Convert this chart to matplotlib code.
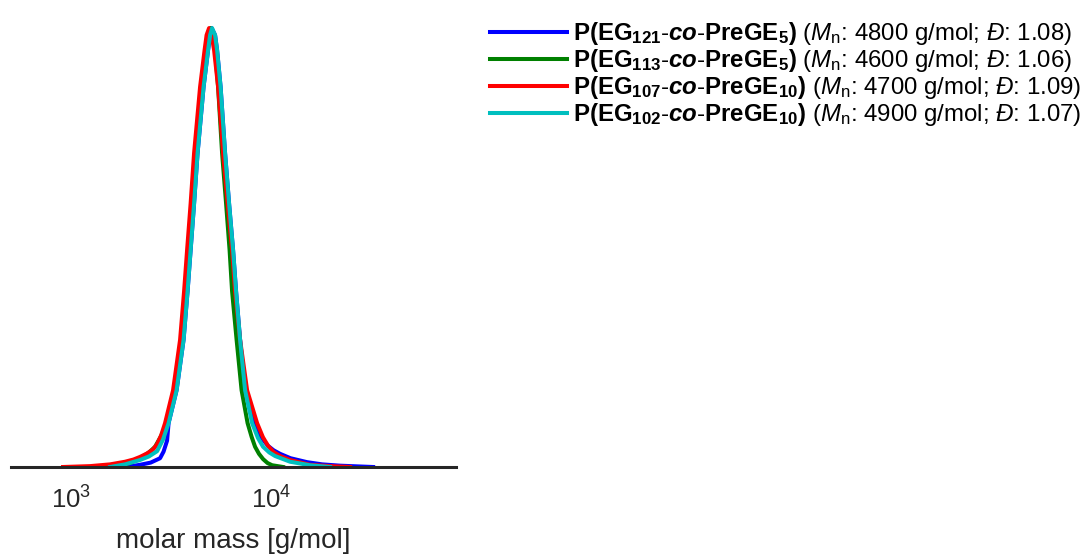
import numpy as np
import matplotlib
matplotlib.use('Agg')
import matplotlib.pyplot as plt
from matplotlib.ticker import FixedLocator, NullLocator

plt.rcParams['font.family'] = ['Liberation Sans', 'DejaVu Sans']
plt.rcParams['mathtext.fontset'] = 'custom'
plt.rcParams['mathtext.rm'] = 'Liberation Sans'
plt.rcParams['mathtext.it'] = 'Liberation Sans:italic'
plt.rcParams['mathtext.bf'] = 'Liberation Sans:bold'
plt.rcParams['mathtext.bfit'] = 'Liberation Sans:bold:italic'

# SEC traces: molar mass [g/mol] vs normalised signal
m_blue = [1758, 2000, 2213, 2500, 2786, 2900, 3020, 3073, 3370, 3652, 3823, 3960, 4121, 4290,
          4597, 4842, 4955, 5040, 5248, 5370, 5592, 5888, 6166, 6457, 6683, 6998, 7413, 8222,
          8900, 9661, 10300, 11092, 12500, 15136, 18000, 22131, 32359]
i_blue = [0.0, 0.002, 0.005, 0.010, 0.020, 0.035, 0.06, 0.10, 0.175, 0.29, 0.40, 0.494, 0.60, 0.715,
          0.866, 0.95, 0.984, 1.0, 0.984, 0.95, 0.866, 0.715, 0.60, 0.494, 0.40, 0.29, 0.175, 0.10,
          0.068, 0.048, 0.038, 0.030, 0.020, 0.011, 0.006, 0.003, 0.0]

m_green = [1603, 1972, 2265, 2450, 2630, 2800, 3020, 3311, 3589, 3758, 3890, 4050, 4217, 4519,
           4732, 4842, 4984, 5129, 5248, 5433, 5689, 5957, 6202, 6383, 6722, 7120, 7629, 8000,
           8318, 8700, 9120, 9600, 10116, 11482]
i_green = [0.0, 0.009, 0.023, 0.033, 0.046, 0.068, 0.10, 0.175, 0.29, 0.40, 0.494, 0.60, 0.715, 0.866,
           0.95, 0.984, 1.0, 0.984, 0.95, 0.866, 0.715, 0.60, 0.494, 0.40, 0.29, 0.175, 0.10, 0.068,
           0.046, 0.030, 0.018, 0.009, 0.004, 0.0]

m_red = [912, 1245, 1567, 1862, 2050, 2213, 2400, 2570, 2692, 2820, 2951, 3236, 3508, 3673, 3802,
         3960, 4121, 4416, 4651, 4759, 4898, 5040, 5188, 5433, 5754, 6063, 6383, 6607, 6998, 7586,
         8511, 9100, 9661, 10300, 11092, 12445, 15668, 19724, 24831]
i_red = [0.0, 0.002, 0.006, 0.012, 0.017, 0.023, 0.031, 0.040, 0.052, 0.072, 0.10, 0.175, 0.29, 0.40,
         0.494, 0.60, 0.715, 0.866, 0.95, 0.984, 1.0, 0.984, 0.95, 0.866, 0.715, 0.60, 0.494, 0.40,
         0.29, 0.175, 0.10, 0.068, 0.048, 0.034, 0.025, 0.016, 0.005, 0.002, 0.0]

m_cyan = [1567, 1862, 2213, 2450, 2692, 2880, 3073, 3370, 3652, 3823, 3960, 4121, 4290, 4597,
          4842, 4955, 5070, 5248, 5370, 5592, 5888, 6166, 6457, 6683, 6998, 7413, 8035, 8600,
          9120, 9800, 10471, 12445, 15668, 19724]
i_cyan = [0.0, 0.006, 0.016, 0.024, 0.036, 0.062, 0.10, 0.175, 0.29, 0.40, 0.494, 0.60, 0.715, 0.866,
          0.95, 0.984, 1.0, 0.984, 0.95, 0.866, 0.715, 0.60, 0.494, 0.40, 0.29, 0.175, 0.10, 0.066,
          0.046, 0.033, 0.025, 0.012, 0.004, 0.0]

labels = [
    r'$\mathbf{P(EG_{121}}$-$\mathbfit{co}$-$\mathbf{PreGE_{5})}$ ($\mathit{M}_\mathrm{n}$: 4800 g/mol; $\mathit{Đ}$: 1.08)',
    r'$\mathbf{P(EG_{113}}$-$\mathbfit{co}$-$\mathbf{PreGE_{5})}$ ($\mathit{M}_\mathrm{n}$: 4600 g/mol; $\mathit{Đ}$: 1.06)',
    r'$\mathbf{P(EG_{107}}$-$\mathbfit{co}$-$\mathbf{PreGE_{10})}$ ($\mathit{M}_\mathrm{n}$: 4700 g/mol; $\mathit{Đ}$: 1.09)',
    r'$\mathbf{P(EG_{102}}$-$\mathbfit{co}$-$\mathbf{PreGE_{10})}$ ($\mathit{M}_\mathrm{n}$: 4900 g/mol; $\mathit{Đ}$: 1.07)',
]
colors = ['#0000ff', '#008000', '#ff0000', '#00bfbf']
xticks = [1e3, 1e4]

fig = plt.figure(figsize=(10.91, 5.54), dpi=100)
ax = fig.add_axes([11/1091, 87/554, 445/1091, 442/554])

series = [(m_blue, i_blue), (m_green, i_green), (m_red, i_red), (m_cyan, i_cyan)]
for (m, i), c, lab in zip(series, colors, labels):
    ax.plot(m, i, color=c, lw=2.9, label=lab, solid_joinstyle='round')

ax.set_xscale('log')
ax.set_xlim(501, 84000)
ax.set_ylim(0, 1.007)
ax.xaxis.set_major_locator(FixedLocator(xticks))
ax.xaxis.set_minor_locator(NullLocator())
ax.tick_params(axis='x', length=0, pad=14, labelsize=18.5, labelcolor='#262626')
ax.set_yticks([])
for s in ['top', 'right', 'left']:
    ax.spines[s].set_visible(False)
ax.spines['bottom'].set_color('#262626')
ax.spines['bottom'].set_linewidth(2.2)
ax.set_xlabel('molar mass [g/mol]', fontsize=20, color='#262626', labelpad=10)

fig.legend(loc='upper left', bbox_to_anchor=(490/1091, 1 - 20/554), frameon=False,
           fontsize=17.3, handlelength=3.2, handletextpad=0.25, labelspacing=0.0,
           borderaxespad=0, borderpad=0)

fig.savefig('out.png', dpi=100)
